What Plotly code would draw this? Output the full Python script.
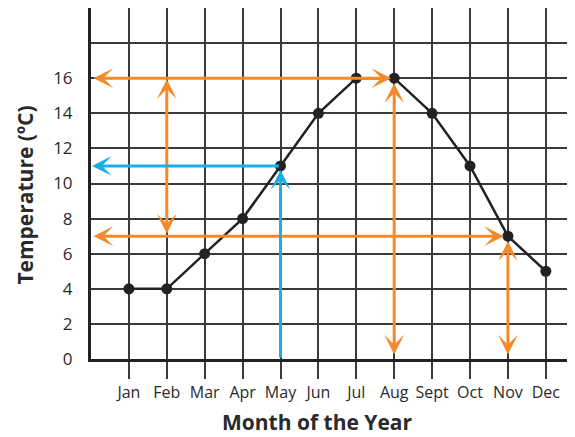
import plotly.graph_objects as go

months = ["Jan", "Feb", "Mar", "Apr", "May", "Jun", "Jul", "Aug", "Sept", "Oct", "Nov", "Dec"]
temps = [4, 4, 6, 8, 11, 14, 16, 16, 14, 11, 7, 5]
y_ticks = [0, 2, 4, 6, 8, 10, 12, 14, 16, 18]
y_tick_labels = ["0", "2", "4", "6", "8", "10", "12", "14", "16", ""]

ORANGE = "#F58A2C"
BLUE = "#1AAEE8"
FONT = "Open Sans"
TXT = "#2a2a2a"
x_pos = list(range(1, 13))

fig = go.Figure()
fig.add_trace(go.Scatter(
    x=x_pos, y=temps, mode="lines+markers",
    line=dict(color="#222222", width=2.5),
    marker=dict(color="#222222", size=11),
    showlegend=False, hoverinfo="skip",
))

# reading guide arrows: (tail_x, tail_y, head_x, head_y, colour, both_ends, head_standoff, start_standoff)
aug, nov, may, feb = 8, 11, 5, 2
arrows = [
    (0, temps[aug - 1], aug, temps[aug - 1], ORANGE, True, 3, 1),
    (aug, 0, aug, temps[aug - 1], ORANGE, True, 5, 3),
    (feb, temps[nov - 1], feb, temps[aug - 1], ORANGE, True, 1, 1),
    (0, temps[nov - 1], nov, temps[nov - 1], ORANGE, True, 4, 1),
    (nov, 0, nov, temps[nov - 1], ORANGE, True, 5, 3),
    (may, temps[may - 1], 0, temps[may - 1], BLUE, False, 1, 0),
    (may, 0, may, temps[may - 1], BLUE, False, 4, 0),
]
for tx, ty, hx, hy, col, both, so, sso in arrows:
    fig.add_annotation(
        x=hx, y=hy, ax=tx, ay=ty, xref="x", yref="y", axref="x", ayref="y",
        text="", showarrow=True, arrowhead=3, arrowsize=1.1, arrowwidth=3,
        arrowcolor=col, standoff=so,
        arrowside="end+start" if both else "end",
        startarrowhead=3, startarrowsize=1.1, startstandoff=sso,
    )

fig.add_annotation(
    text="<b>Month of the Year</b>", xref="paper", yref="paper",
    x=0.467, y=-0.179, xanchor="center", yanchor="middle", showarrow=False,
    font=dict(family=FONT, size=21, color=TXT),
)
fig.add_annotation(
    text="<b>Temperature (ºC)</b>", xref="paper", yref="paper",
    x=-0.136, y=0.466, xanchor="center", yanchor="middle", showarrow=False,
    textangle=-90, font=dict(family=FONT, size=21, color=TXT),
)

fig.update_xaxes(
    range=[0, 12.77], tickvals=x_pos, ticktext=months,
    showgrid=True, gridcolor="#3a3a3a", gridwidth=1.5,
    ticks="outside", ticklen=17, tickwidth=1.5, tickcolor="#3a3a3a",
    showline=True, linecolor="#222222", linewidth=3, zeroline=False,
    tickfont=dict(family=FONT, size=16, color=TXT),
)
fig.update_yaxes(
    range=[0, 20], tickvals=y_ticks, ticktext=y_tick_labels,
    showgrid=True, gridcolor="#3a3a3a", gridwidth=1.5,
    ticks="outside", ticklen=12, tickcolor="rgba(0,0,0,0)",
    showline=True, linecolor="#222222", linewidth=3, zeroline=False,
    tickfont=dict(family=FONT, size=17, color=TXT),
)
# the page body has an 8px default margin; size the figure to fit the window
fig.update_layout(
    width=567, height=429, margin=dict(l=83, r=0, t=0, b=78),
    plot_bgcolor="white", paper_bgcolor="white",
)
fig.write_html("out.html")
